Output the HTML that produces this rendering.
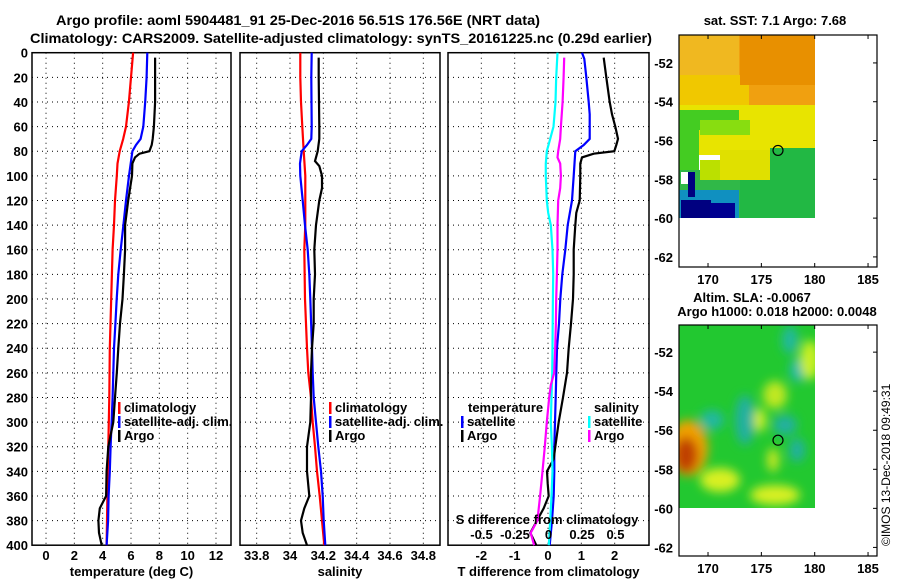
<!DOCTYPE html>
<html><head><meta charset="utf-8"><style>
body{margin:0;background:#fff}
svg{display:block;font-family:"Liberation Sans",sans-serif;font-weight:bold}
</style></head><body>
<svg id="chart" width="900" height="580" viewBox="0 0 900 580" xmlns="http://www.w3.org/2000/svg">
<defs>
<filter id="blur" x="-20%" y="-20%" width="140%" height="140%"><feGaussianBlur stdDeviation="5"/></filter>
<clipPath id="m2clip"><rect x="679" y="325" width="136" height="183"/></clipPath>
</defs>
<g font-size="14">
<text x="298" y="25" text-anchor="middle" textLength="484" lengthAdjust="spacingAndGlyphs">Argo profile: aoml 5904481_91 25-Dec-2016 56.51S 176.56E (NRT data)</text>
<text x="341" y="43" text-anchor="middle" textLength="622" lengthAdjust="spacingAndGlyphs">Climatology: CARS2009. Satellite-adjusted climatology: synTS_20161225.nc (0.29d earlier)</text>
</g>
<g id="plots"></g>
<g id="maps"></g>
</svg>
<script>
// ---- data ----
const tDepth   = [0,20,40,60,70,80,90,100,120,140,160,180,200,240,280,320,360,400];
const tClim    = [6.15,6.0,5.85,5.65,5.45,5.2,5.05,5.0,4.87,4.8,4.7,4.65,4.6,4.5,4.47,4.4,4.33,4.28];
const tsDepth  = [0,20,40,60,70,75,80,90,100,120,140,160,180,200,220,240,260,280,300,320,340,360,380,400];
const tSat     = [7.15,7.1,7.0,6.87,6.68,6.35,6.1,5.98,5.86,5.65,5.46,5.27,5.1,4.99,4.9,4.8,4.75,4.7,4.63,4.56,4.5,4.42,4.38,4.28];
const aDepth   = [4,20,40,60,70,75,80,82,85,90,100,120,140,160,180,200,220,240,260,280,300,320,340,360,370,380,390,400];
const tArgo    = [7.7,7.7,7.7,7.62,7.53,7.46,7.3,6.6,6.28,6.1,6.07,5.8,5.58,5.58,5.5,5.4,5.22,5.1,5.0,4.87,4.75,4.4,4.28,4.24,3.8,3.7,3.74,3.93];
const sClimDepth=[0,20,40,60,80,100,140,160,200,240,260,280,300,320,340,360,380,400];
const sClim    = [34.062,34.062,34.066,34.074,34.082,34.092,34.092,34.086,34.09,34.102,34.11,34.126,34.136,34.15,34.162,34.178,34.192,34.206];
const sSatDepth= [0,20,60,70,75,80,90,100,120,140,160,180,200,240,260,280,300,320,340,360,380,400];
const sSat     = [34.13,34.128,34.13,34.128,34.102,34.07,34.06,34.062,34.076,34.09,34.106,34.116,34.122,34.132,34.136,34.142,34.156,34.17,34.186,34.196,34.202,34.212];
const sArgoDepth=[4,20,60,70,80,88,92,100,110,120,140,160,180,200,220,240,260,280,300,320,340,360,370,380,390,400];
const sArgo    = [34.172,34.172,34.176,34.176,34.166,34.15,34.176,34.192,34.192,34.176,34.156,34.146,34.15,34.142,34.142,34.132,34.126,34.126,34.122,34.102,34.102,34.116,34.086,34.066,34.076,34.102];
const dtSatDepth=[0,5,20,40,50,70,75,80,100,120,140,160,180,200,220,240,260,280,300,320,340,360,380,400];
const dtSat    = [1.02,1.09,1.15,1.22,1.25,1.25,1.07,0.82,0.77,0.72,0.59,0.52,0.43,0.37,0.33,0.27,0.25,0.23,0.21,0.19,0.19,0.17,0.12,0.05];
const dtArgoDepth=[4,20,40,50,60,70,75,80,82,85,90,100,120,130,140,160,180,200,220,240,260,280,300,310,320,330,340,350,360,370,380,390,400];
const dtArgo   = [1.67,1.75,1.85,1.92,2.02,2.1,2.05,1.99,1.37,1.02,0.97,0.97,0.95,0.85,0.82,0.77,0.77,0.75,0.69,0.62,0.57,0.45,0.32,0.27,0.22,0.17,-0.03,-0.01,0.02,-0.13,-0.33,-0.53,-0.35];
const dsSatDepth=[0,20,40,60,70,80,90,100,120,130,140,160,180,200,240,260,280,300,320,340,360,380,400];
const dsSat    = [0.0675,0.0575,0.0525,0.0375,0.0125,-0.0125,-0.02,-0.02,-0.0125,-0.0025,0.0175,0.03,0.035,0.0325,0.03,0.0275,0.0225,0.0175,0.025,0.03,0.0225,0.0125,0.0025];
const dsArgoDepth=[4,20,40,60,70,80,85,90,100,110,120,140,160,180,200,220,240,260,270,280,300,320,340,360,380,390,400];
const dsArgo   = [0.1175,0.1125,0.105,0.0925,0.0875,0.0725,0.0675,0.0875,0.0925,0.0875,0.0725,0.0675,0.0675,0.0625,0.0575,0.055,0.05,0.0425,0.0175,0.005,-0.0125,-0.0275,-0.045,-0.0625,-0.0825,-0.1325,-0.1075];
const depthTicks=[0,20,40,60,80,100,120,140,160,180,200,220,240,260,280,300,320,340,360,380,400];
const tTicks=[0,2,4,6,8,10,12];
const sTicks=[33.8,34,34.2,34.4,34.6,34.8];
const dtTicks=[-2,-1,0,1,2];
const dsTicks=[-0.5,-0.25,0,0.25,0.5];
const dsTickLabels=["-0.5","-0.25","0","0.25","0.5"];
const latTicks=[-52,-54,-56,-58,-60,-62];
const lonTicks=[170,175,180,185];
const argoLon=176.56, argoLat=-56.51;

const NS="http://www.w3.org/2000/svg";
function mk(parent,tag,attrs,text){const e=document.createElementNS(NS,tag);for(const k in attrs)e.setAttribute(k,attrs[k]);if(text!==undefined)e.textContent=text;parent.appendChild(e);return e;}
const Y0=52.7,Y1=545.2;
const yD=d=>Y0+(Y1-Y0)*d/400;
function lin(d0,d1,r0,r1){return v=>r0+(v-d0)/(d1-d0)*(r1-r0);}
const plots=document.getElementById('plots');

function panel(name,x0,x1,xs,ticks,labels,title){
  const g=mk(plots,'g',{});
  
  
  const grid=mk(g,'g',{stroke:'#000','stroke-width':1,'stroke-dasharray':'1,4'});
  
  
  depthTicks.forEach(d=>{if(d>0&&d<400)mk(grid,'line',{x1:x0,x2:x1,y1:yD(d),y2:yD(d)});});
  ticks.forEach(t=>{mk(grid,'line',{x1:xs(t),x2:xs(t),y1:Y0,y2:Y1});});
  const fr=mk(g,'rect',{x:x0,y:Y0,width:x1-x0,height:Y1-Y0,fill:'none',stroke:'#000','stroke-width':1.5});
  
  
  const tl=mk(g,'g',{'font-size':13,'text-anchor':'middle'});
  
  
  ticks.forEach((t,i)=>mk(tl,'text',{x:xs(t),y:560},labels?labels[i]:String(t)));
  const ti=mk(g,'text',{x:(x0+x1)/2,y:576,'font-size':13,'text-anchor':'middle'},title);
  
  
  return g;
}
function series(g,name,depths,vals,xs,color){
  const pts=depths.map((d,i)=>xs(vals[i]).toFixed(1)+','+yD(d).toFixed(1)).join(' ');
  const p=mk(g,'polyline',{points:pts,fill:'none',stroke:color,'stroke-width':2.2,'stroke-linejoin':'miter'});
  
  
}
function legend(g,name,x,y,color,label){
  const lg=mk(g,'g',{});
  
  
  mk(lg,'rect',{x:x,y:y-10,width:2.5,height:12,fill:color});
  if(label)mk(lg,'text',{x:x+6,y:y,'font-size':13},label);
}

// y-axis labels
const yl=mk(plots,'g',{'font-size':13,'text-anchor':'end'});


depthTicks.forEach(d=>mk(yl,'text',{x:28,y:yD(d)+5},String(d)));

// panel 1 temperature
const xT=lin(-0.99,13.06,32,231);
const p1=panel('temperature-panel',32,231,xT,tTicks,null,'temperature (deg C)');
series(p1,'temperature-climatology-line',tDepth,tClim,xT,'#ff0000');
series(p1,'temperature-satellite-adj-line',tsDepth,tSat,xT,'#0000ff');
series(p1,'temperature-argo-line',aDepth,tArgo,xT,'#000');
legend(p1,'legend-climatology',118,412,'#ff0000','climatology');
legend(p1,'legend-satellite-adj',118,426,'#0000ff','satellite-adj. clim.');
legend(p1,'legend-argo',118,440,'#000','Argo');

// panel 2 salinity
const xS=lin(33.7,34.9,240,440);
const p2=panel('salinity-panel',240,440,xS,sTicks,null,'salinity');
series(p2,'salinity-climatology-line',sClimDepth,sClim,xS,'#ff0000');
series(p2,'salinity-satellite-adj-line',sSatDepth,sSat,xS,'#0000ff');
series(p2,'salinity-argo-line',sArgoDepth,sArgo,xS,'#000');
legend(p2,'legend-climatology-2',329,412,'#ff0000','climatology');
legend(p2,'legend-satellite-adj-2',329,426,'#0000ff','satellite-adj. clim.');
legend(p2,'legend-argo-2',329,440,'#000','Argo');

// panel 3 differences
const xDT=lin(-3,3.03,448,649);
const xDS=lin(-0.75,0.75,448,649);
const p3=panel('difference-panel',448,649,xDT,dtTicks,null,'T difference from climatology');
series(p3,'t-diff-satellite-line',dtSatDepth,dtSat,xDT,'#0000ff');
series(p3,'t-diff-argo-line',dtArgoDepth,dtArgo,xDT,'#000');
series(p3,'s-diff-satellite-line',dsSatDepth,dsSat,xDS,'#00ffff');
series(p3,'s-diff-argo-line',dsArgoDepth,dsArgo,xDS,'#ff00ff');
const lt=mk(p3,'text',{x:468,y:412,'font-size':13},'temperature');


legend(p3,'legend-t-satellite',461,426,'#0000ff','satellite');
legend(p3,'legend-t-argo',461,440,'#000','Argo');
const ls=mk(p3,'text',{x:594,y:412,'font-size':13},'salinity');


legend(p3,'legend-s-satellite',588,426,'#00ffff','satellite');
legend(p3,'legend-s-argo',588,440,'#ff00ff','Argo');
const sat=mk(p3,'text',{x:547,y:524,'font-size':13,'text-anchor':'middle'},'S difference from climatology');


const sl=mk(p3,'g',{'font-size':13,'text-anchor':'middle'});


dsTicks.forEach((t,i)=>mk(sl,'text',{x:xDS(t),y:539},dsTickLabels[i]));

// ---- maps ----
const maps=document.getElementById('maps');
function mapFrame(name,top,bottom,latTop,latBot){
  const g=mk(maps,'g',{});
  
  
  const lonX=lin(167.28,185.84,679,877);
  const latY=lin(latTop,latBot,top,bottom);
  return {g,lonX,latY};
}
function axesMap(m,top,bottom,labY){
  const {g,lonX,latY}=m;
  const fr=mk(g,'rect',{x:679,y:top,width:198,height:bottom-top,fill:'none',stroke:'#000','stroke-width':1.2});
  
  
  const la=mk(g,'g',{'font-size':13,'text-anchor':'end'});
  
  
  latTicks.forEach(t=>{mk(la,'text',{x:673,y:latY(t)+5},String(t));
    mk(g,'line',{x1:873,x2:877,y1:latY(t),y2:latY(t),stroke:'#000'});});
  const lo=mk(g,'g',{'font-size':13,'text-anchor':'middle'});
  
  
  lonTicks.forEach(t=>{mk(lo,'text',{x:lonX(t),y:labY},String(t));
    mk(g,'line',{x1:lonX(t),x2:lonX(t),y1:top,y2:top+4,stroke:'#000'});
    mk(g,'line',{x1:lonX(t),x2:lonX(t),y1:bottom,y2:bottom-4,stroke:'#000'});});
  const c=mk(g,'circle',{cx:lonX(argoLon),cy:latY(argoLat),r:5,fill:'none',stroke:'#000','stroke-width':1.2});
  
  
}
// map1 SST
const m1=mapFrame('sst-map',35,267,-50.56,-62.52);
const img1=mk(m1.g,'g',{});


[[679,35,136,75,'#f0a010'],[679,35,60,40,'#f0b820'],[679,75,70,40,'#f0c800'],[740,35,75,50,'#e89000'],
 [679,105,136,50,'#e8e400'],[679,110,60,20,'#44cc22'],[679,125,20,50,'#44cc22'],[700,120,50,15,'#88dd10'],
 [770,148,45,70,'#22b844'],[740,170,30,48,'#22b844'],[679,170,61,48,'#30b848'],[679,190,60,28,'#1090c0'],
 [681,200,30,18,'#000080'],[710,203,25,15,'#000090'],[681,172,14,12,'#ffffff'],[688,172,7,25,'#000080'],
 [700,160,40,20,'#bbe000'],[720,150,50,30,'#e0e000']].forEach(r=>mk(img1,'rect',{x:r[0],y:r[1],width:r[2],height:r[3],fill:r[4]}));
axesMap(m1,35,267,284);
const t1=mk(m1.g,'text',{x:775,y:25,'font-size':13,'text-anchor':'middle'},'sat. SST: 7.1 Argo: 7.68');



// map2 SLA
const m2=mapFrame('sla-map',325,556,-50.61,-62.44);
const img2=mk(m2.g,'g',{'clip-path':'url(#m2clip)'});


mk(img2,'rect',{x:679,y:325,width:136,height:183,fill:'#22c830'});
const blobs=mk(img2,'g',{filter:'url(#blur)'});
[[790,340,8,14,'#20b8a0'],[798,370,8,12,'#20b8b0'],[775,395,12,14,'#c0e820'],[810,360,10,20,'#c8f020'],
 [712,420,12,10,'#20b8a0'],[745,420,10,25,'#20b0a0'],[760,420,6,12,'#d0f020'],[785,425,12,10,'#20b0a0'],
 [720,480,20,12,'#d8f020'],[775,495,25,10,'#d8f020'],[797,450,8,12,'#20b0a0'],[773,460,6,12,'#c8e820'],
 [688,448,20,28,'#f0a000'],[686,455,12,18,'#c04000']].forEach(b=>mk(blobs,'ellipse',{cx:b[0],cy:b[1],rx:b[2],ry:b[3],fill:b[4]}));
axesMap(m2,325,556,573);
const t2=mk(m2.g,'text',{x:752,y:302,'font-size':13,'text-anchor':'middle'},'Altim. SLA: -0.0067');


const t3=mk(m2.g,'text',{x:777,y:316,'font-size':13,'text-anchor':'middle'},'Argo h1000: 0.018 h2000: 0.0048');


const cp=mk(maps,'text',{x:0,y:0,'font-size':12,'font-weight':'normal',transform:'translate(890,546) rotate(-90)'},'©IMOS 13-Dec-2018 09:49:31');


</script>
</body></html>
